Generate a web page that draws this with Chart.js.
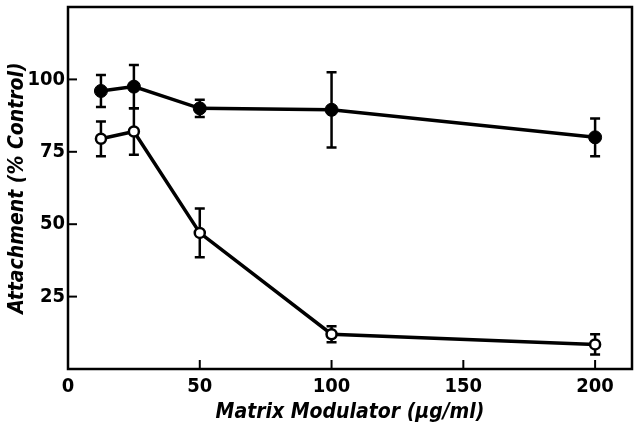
<!DOCTYPE html>
<html>
<head>
<meta charset="utf-8">
<script src="https://cdn.jsdelivr.net/npm/chart.js@4"></script>
<style>
  body { margin: 0; background: #fff; }
  #wrap { width: 635px; height: 425px; }
</style>
</head>
<body>
<div id="wrap"><canvas id="chart"></canvas></div>
<script>
const doses = [12.5, 25, 50, 100, 200];
const filledVals = [96, 97.5, 90, 89.5, 80];
const filledErr = [5.5, 7.5, 3, 13, 6.5];
const openVals = [79.5, 82, 47, 12, 8.5];
const openErr = [6, 8, 8.4, 2.8, 3.5];
const xTicks = [0, 50, 100, 150, 200];
const yTicks = [25, 50, 75, 100];

const FONT = '"DejaVu Sans Condensed", "DejaVu Sans", sans-serif';

function points(vals) {
    return doses.map((d, i) => ({ x: d, y: vals[i] }));
}

// box around the plot + ticks pointing inward
const frame = {
    id: 'frame',
    afterDraw(chart) {
        const { ctx, chartArea: a, scales } = chart;
        ctx.save();
        ctx.strokeStyle = '#000';
        ctx.lineWidth = 2.5;
        ctx.strokeRect(a.left, a.top, a.right - a.left, a.bottom - a.top);
        ctx.lineWidth = 2;
        for (const v of yTicks) {
            const y = scales.y.getPixelForValue(v);
            ctx.beginPath();
            ctx.moveTo(a.left, y);
            ctx.lineTo(a.left + 9, y);
            ctx.stroke();
        }
        for (const v of xTicks) {
            const x = scales.x.getPixelForValue(v);
            ctx.beginPath();
            ctx.moveTo(x, a.bottom);
            ctx.lineTo(x, a.bottom - 9);
            ctx.stroke();
        }
        ctx.restore();
    }
};

// error bars drawn before the points so open circles cover them
const errorBars = {
    id: 'errorBars',
    beforeDatasetsDraw(chart) {
        const { ctx, scales } = chart;
        const errs = [filledErr, openErr];
        ctx.save();
        ctx.strokeStyle = '#000';
        ctx.lineWidth = 2.5;
        chart.data.datasets.forEach((ds, k) => {
            ds.data.forEach((p, i) => {
                const x = scales.x.getPixelForValue(p.x);
                const y1 = scales.y.getPixelForValue(p.y + errs[k][i]);
                const y2 = scales.y.getPixelForValue(p.y - errs[k][i]);
                ctx.beginPath();
                ctx.moveTo(x, y1); ctx.lineTo(x, y2);
                ctx.moveTo(x - 5, y1); ctx.lineTo(x + 5, y1);
                ctx.moveTo(x - 5, y2); ctx.lineTo(x + 5, y2);
                ctx.stroke();
            });
        });
        ctx.restore();
    }
};

const ctx = document.getElementById('chart').getContext('2d');

new Chart(ctx, {
    type: 'line',
    data: {
        datasets: [{
            data: points(filledVals),
            borderColor: '#000',
            borderWidth: 3.5,
            backgroundColor: '#000',
            pointRadius: 6.5,
            pointBorderWidth: 1,
            pointBackgroundColor: '#000',
            tension: 0
        }, {
            data: points(openVals),
            borderColor: '#000',
            borderWidth: 3.5,
            backgroundColor: '#fff',
            pointRadius: 5,
            pointBorderWidth: 2.5,
            pointBackgroundColor: '#fff',
            tension: 0
        }]
    },
    options: {
        responsive: true,
        maintainAspectRatio: false,
        animation: false,
        layout: { autoPadding: false, padding: { top: 7, right: 3 } },
        plugins: { legend: { display: false }, tooltip: { enabled: false } },
        scales: {
            x: {
                type: 'linear',
                min: 0,
                max: 214,
                afterBuildTicks: (s) => { s.ticks = xTicks.map(v => ({ value: v })); },
                afterFit: (s) => { s.height = 56; s.paddingRight = 0; s.paddingLeft = 0; },
                grid: { display: false, drawTicks: false },
                border: { display: false },
                ticks: {
                    padding: 6,
                    color: '#000',
                    font: { family: FONT, size: 20, weight: 'bold' }
                },
                title: {
                    display: true,
                    text: 'Matrix Modulator (\u03bcg/ml)',
                    color: '#000',
                    padding: { top: 0, bottom: 0 },
                    font: { family: FONT, size: 21, weight: 'bold', style: 'italic' }
                }
            },
            y: {
                min: 0,
                max: 125,
                afterBuildTicks: (s) => { s.ticks = yTicks.map(v => ({ value: v })); },
                afterFit: (s) => { s.width = 68; s.paddingTop = 0; s.paddingBottom = 0; },
                grid: { display: false, drawTicks: false },
                border: { display: false },
                ticks: {
                    padding: 3,
                    color: '#000',
                    font: { family: FONT, size: 20, weight: 'bold' }
                },
                title: {
                    display: true,
                    text: 'Attachment (% Control)',
                    color: '#000',
                    padding: { top: 5, bottom: 0 },
                    font: { family: FONT, size: 21, weight: 'bold', style: 'italic' }
                }
            }
        }
    },
    plugins: [frame, errorBars]
});
</script>
</body>
</html>
